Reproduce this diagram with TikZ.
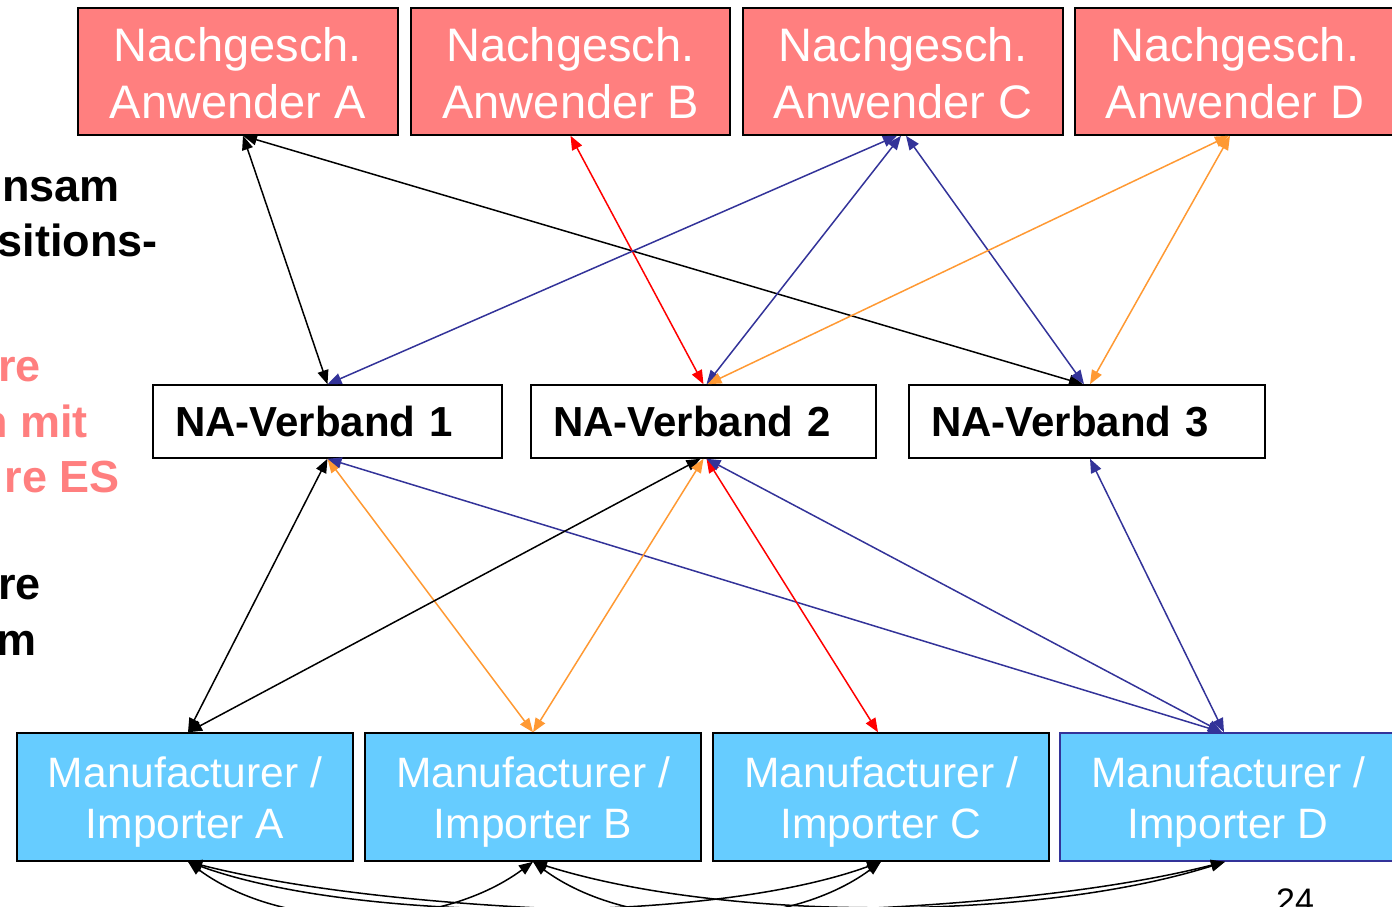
\documentclass[tikz,border=0pt]{standalone}
\usepackage{fontspec}
\setmainfont{Liberation Sans}
\usetikzlibrary{arrows.meta}
\definecolor{anwrot}{HTML}{FF7F7F}
\definecolor{herblau}{HTML}{66CCFF}
\definecolor{linkblau}{HTML}{333399}
\definecolor{linkorange}{HTML}{FF9933}
\newcommand{\obenA}{\rule{0pt}{38pt}}
\newcommand{\obenM}{\rule{0pt}{41pt}}
\begin{document}
\begin{tikzpicture}[x=1pt, y=-1pt, >={Triangle[length=14pt,width=11pt]},
    anwender/.style={draw, line width=1.5pt, fill=anwrot, text=white, inner sep=0pt,
        minimum width=320pt, minimum height=127pt, align=center, font=\fontsize{47}{57}\selectfont},
    verband/.style={draw, line width=1.5pt, fill=white, inner xsep=22pt, inner ysep=0pt,
        minimum height=73pt, align=left, font=\bfseries\fontsize{42}{50}\selectfont},
    hersteller/.style={draw, line width=1.5pt, fill=herblau, text=white, inner sep=0pt,
        minimum width=336pt, minimum height=128pt, align=center, font=\fontsize{42.5}{51}\selectfont},
    randtext/.style={anchor=base east, inner sep=0pt, font=\bfseries\fontsize{45}{54}\selectfont},
    link/.style={<->, line width=1.5pt}]
            \clip (0,0) rectangle (1392,906);

            \node (t1) [randtext] at (120,201) {nsam};
            \node (t2) [randtext] at (158,256) {sitions-};
            \node (t3) [randtext, text=anwrot] at (41,381) {re};
            \node (t4) [randtext, text=anwrot] at (88,437) {n mit};
            \node (t5) [randtext, text=anwrot] at (120,492) {re ES};
            \node (t6) [randtext] at (41,599) {re};
            \node (t7) [randtext] at (37,655) {m};
            \node (seite) [anchor=base west, inner sep=0pt, font=\fontsize{34}{40}\selectfont] at (1276,912) {24};

            \node (na) [anwender] at (238,71.5) {\obenA Nachgesch.\\Anwender A};
            \node (nb) [anwender, minimum width=319pt] at (570.5,71.5) {\obenA Nachgesch.\\Anwender B};
            \node (nc) [anwender] at (903,71.5) {\obenA Nachgesch.\\Anwender C};
            \node (nd) [anwender] at (1235,71.5) {\obenA Nachgesch.\\Anwender D};

            \node (v1) [verband, text width=305pt] at (327.5,421.5) {NA-Verband 1};
            \node (v2) [verband, text width=301pt] at (703.5,421.5) {NA-Verband 2};
            \node (v3) [verband, text width=312pt] at (1087,421.5) {NA-Verband 3};

            \node (ma) [hersteller] at (185,797) {\obenM Manufacturer /\\Importer A};
            \node (mb) [hersteller] at (533,797) {\obenM Manufacturer /\\Importer B};
            \node (mc) [hersteller] at (881,797) {\obenM Manufacturer /\\Importer C};
            \node (md) [hersteller, draw=linkblau] at (1228,797) {\obenM Manufacturer /\\Importer D};

            \draw[link] ([xshift=5pt]na.south) -- (v1.north);
            \draw[link] ([xshift=5pt]na.south) -- ([xshift=-4pt]v3.north);
            \draw[link, red] (nb.south) -- (v2.north);
            \draw[link, linkblau] ([xshift=-6pt]nc.south) -- (v1.north);
            \draw[link, linkblau] ([xshift=-2pt]nc.south) -- ([xshift=3pt]v2.north);
            \draw[link, linkblau] ([xshift=3pt]nc.south) -- ([xshift=-3pt]v3.north);
            \draw[link, linkorange] ([xshift=-6pt]nd.south) -- ([xshift=4pt]v2.north);
            \draw[link, linkorange] ([xshift=-5pt]nd.south) -- ([xshift=3pt]v3.north);

            \draw[link] (v1.south) -- ([xshift=3pt]ma.north);
            \draw[link, linkorange] (v1.south) -- (mb.north);
            \draw[link, linkblau] (v1.south) -- ([xshift=-6pt]md.north);
            \draw[link] ([xshift=-3pt]v2.south) -- ([xshift=3pt]ma.north);
            \draw[link, linkorange] (v2.south) -- (mb.north);
            \draw[link, red] ([xshift=3pt]v2.south) -- ([xshift=-3pt]mc.north);
            \draw[link, linkblau] ([xshift=3pt]v2.south) -- ([xshift=-6pt]md.north);
            \draw[link, linkblau] ([xshift=3pt]v3.south) -- ([xshift=-4pt]md.north);

            \draw[link] ([xshift=3pt]ma.south) .. controls +(95,70) and +(-95,70) .. (mb.south);
            \draw[link] ([xshift=3pt]ma.south) .. controls +(170,62) and +(-170,62) .. (mc.south);
            \draw[link] ([xshift=3pt]ma.south) .. controls +(260,66) and +(-260,66) .. ([xshift=-3pt]md.south);
            \draw[link] (mb.south) .. controls +(95,70) and +(-95,70) .. (mc.south);
            \draw[link] (mb.south) .. controls +(190,60) and +(-190,60) .. ([xshift=-3pt]md.south);
        \end{tikzpicture}
\end{document}
